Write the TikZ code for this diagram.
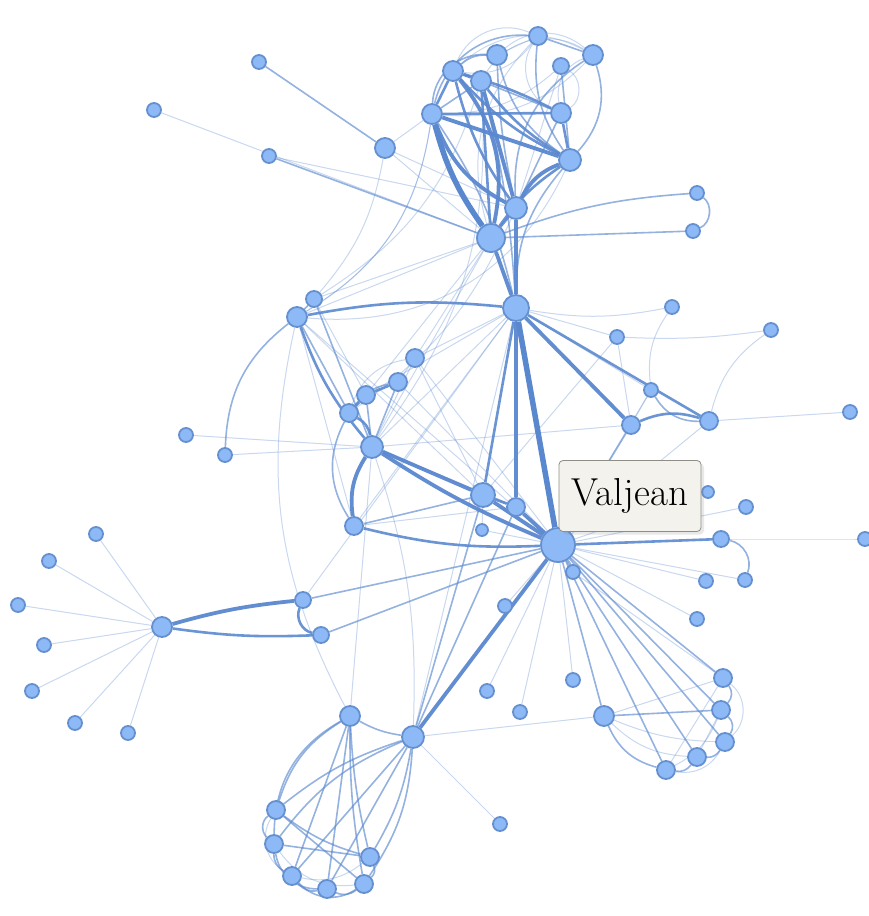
\documentclass[tikz,border=0pt]{standalone}
\usetikzlibrary{backgrounds,shadows}
\definecolor{nodefill}{HTML}{8DBAF6}
\definecolor{nodedraw}{HTML}{6590D0}
\definecolor{edgec}{HTML}{5A88CF}
\definecolor{tipfill}{HTML}{F4F2EC}
\definecolor{tipdraw}{HTML}{8E8E86}
\tikzset{
  vn/.style={circle,fill=nodefill,draw=nodedraw,line width=1.8pt,minimum size={2*#1 pt},inner sep=0pt},
  ew1/.style={draw=edgec,line width=1pt,draw opacity=0.33},
  ew2/.style={draw=edgec,line width=1.6pt,draw opacity=0.65},
  ew3/.style={draw=edgec,line width=2.6pt,draw opacity=0.9},
  ew4/.style={draw=edgec,line width=3.8pt,draw opacity=0.95},
  ew5/.style={draw=edgec,line width=5.5pt},
  tip/.style={rectangle,rounded corners=4pt,fill=tipfill,draw=tipdraw,line width=0.8pt,
    minimum width=142pt,minimum height=71pt,inner sep=0pt,
    drop shadow={opacity=0.18,shadow xshift=3pt,shadow yshift=-3pt}}
}
\begin{document}
\begin{tikzpicture}[x=1pt,y=-1pt]
\useasboundingbox (0,0) rectangle (869,916);
% top cluster
\node[vn=10] (a1) at (432,114) {};
\node[vn=10] (a2) at (453,71) {};
\node[vn=10] (a3) at (481,81) {};
\node[vn=10] (a4) at (497,55) {};
\node[vn=9] (a5) at (538,36) {};
\node[vn=8] (a6) at (561,66) {};
\node[vn=10] (a7) at (593,55) {};
\node[vn=10] (a8) at (561,113) {};
\node[vn=11] (a9) at (570,160) {};
\node[vn=11] (a10) at (516,208) {};
\node[vn=14] (a11) at (491,238) {};
\node[vn=10] (b1) at (385,148) {};
\node[vn=7] (l1) at (259,62) {};
\node[vn=7] (l2) at (154,110) {};
\node[vn=7] (l3) at (269,156) {};
\node[vn=7] (r1) at (697,193) {};
\node[vn=7] (r2) at (693,231) {};
% middle
\node[vn=13] (J) at (516,308) {};
\node[vn=10] (c1) at (297,317) {};
\node[vn=8] (c2) at (314,299) {};
\node[vn=9] (c3) at (415,358) {};
\node[vn=9] (c4) at (398,382) {};
\node[vn=9] (c5) at (366,395) {};
\node[vn=9] (c6) at (349,413) {};
\node[vn=11] (c7) at (372,447) {};
\node[vn=7] (l4) at (186,435) {};
\node[vn=7] (l5) at (225,455) {};
\node[vn=9] (c8) at (354,526) {};
\node[vn=12] (c9) at (483,495) {};
\node[vn=9] (c10) at (516,507) {};
\node[vn=6] (c11) at (482,530) {};
\node[vn=17] (V) at (558,545) {};
\node[vn=7] (d1) at (672,307) {};
\node[vn=7] (d2) at (617,337) {};
\node[vn=7] (d3) at (771,330) {};
\node[vn=7] (d4) at (651,390) {};
\node[vn=9] (d5) at (631,425) {};
\node[vn=9] (d6) at (709,421) {};
\node[vn=7] (d7) at (850,412) {};
\node[vn=6] (d8) at (708,492) {};
\node[vn=7] (d9) at (746,507) {};
\node[vn=8] (d10) at (721,539) {};
\node[vn=7] (d11) at (865,539) {};
\node[vn=7] (d12) at (706,581) {};
\node[vn=7] (d13) at (745,580) {};
\node[vn=7] (d14) at (573,572) {};
\node[vn=7] (d15) at (697,619) {};
% left star
\node[vn=10] (h) at (162,627) {};
\node[vn=7] (h1) at (96,534) {};
\node[vn=7] (h2) at (49,561) {};
\node[vn=7] (h3) at (18,605) {};
\node[vn=7] (h4) at (44,645) {};
\node[vn=7] (h5) at (32,691) {};
\node[vn=7] (h6) at (75,723) {};
\node[vn=7] (h7) at (128,733) {};
\node[vn=8] (p1) at (303,600) {};
\node[vn=8] (p2) at (321,635) {};
% lower
\node[vn=7] (e1) at (505,606) {};
\node[vn=7] (e2) at (487,691) {};
\node[vn=7] (e3) at (520,712) {};
\node[vn=7] (e4) at (573,680) {};
\node[vn=10] (f0) at (604,716) {};
\node[vn=9] (f1) at (723,678) {};
\node[vn=9] (f2) at (721,710) {};
\node[vn=9] (f3) at (725,742) {};
\node[vn=9] (f4) at (697,757) {};
\node[vn=9] (f5) at (666,770) {};
\node[vn=11] (g0) at (413,737) {};
\node[vn=10] (g1) at (350,716) {};
\node[vn=9] (g2) at (276,810) {};
\node[vn=9] (g3) at (274,844) {};
\node[vn=9] (g4) at (292,876) {};
\node[vn=9] (g5) at (327,889) {};
\node[vn=9] (g6) at (364,884) {};
\node[vn=9] (g7) at (370,857) {};
\node[vn=7] (e5) at (500,824) {};
\begin{scope}[on background layer]
\foreach \a/\b/\w/\g in {
 a1/a11/ew5/-10, a1/a10/ew4/-20, a1/a9/ew4/0, a1/a8/ew3/0, a2/a8/ew3/5, a2/a9/ew3/-10,
 a2/a3/ew3/0, a2/a4/ew2/20, a2/a11/ew4/25, a2/a10/ew3/-10, a3/a10/ew4/0, a3/a11/ew3/0,
 a3/a9/ew3/-10, a3/a8/ew2/0, a4/a10/ew2/-5, a4/a9/ew2/-20, a4/a7/ew1/40, a4/a5/ew1/0,
 a5/a7/ew2/0, a5/a9/ew2/-20, a5/a2/ew1/30, a6/a9/ew2/0, a6/a10/ew1/0, a7/a9/ew2/30,
 a7/a10/ew2/-30, a8/a9/ew3/0, a8/a10/ew2/0, a9/a10/ew4/-20, a9/a11/ew3/-10, a10/a11/ew3/0,
 a10/J/ew4/0, a11/J/ew4/0, a1/J/ew2/10, a9/J/ew2/-20, a3/J/ew2/5, a1/a2/ew3/0, a1/a3/ew2/0,
 a6/a1/ew1/20, a7/a1/ew1/25, a5/a11/ew1/-30, a1/a5/ew2/40, a2/a5/ew1/45, a3/a7/ew1/45,
 a1/a4/ew2/45, a6/a8/ew1/60, a7/a8/ew1/-40, a5/a8/ew1/-50, a2/a7/ew1/35,
 l1/b1/ew2/0, b1/a11/ew1/0, b1/a10/ew1/0, b1/a1/ew1/0, b1/c2/ew1/15, l2/a11/ew1/0,
 l3/a11/ew2/0, l3/a10/ew1/0, r1/a11/ew2/-8, r2/a11/ew2/0, r1/r2/ew2/60,
 a1/c1/ew1/25, a3/c7/ew1/20, a11/c3/ew1/0, a10/c6/ew1/15, a11/c5/ew1/0, a9/c1/ew1/35,
 J/V/ew5/0, J/c10/ew4/0, J/c9/ew3/0, J/d5/ew4/0, J/d6/ew3/0, J/c1/ew3/-8, J/c7/ew1/0,
 J/d2/ew1/0, J/d4/ew1/0, J/g0/ew1/0, J/c8/ew1/0, J/c3/ew1/0, J/c5/ew1/0, J/d1/ew1/-10,
 c1/c2/ew2/0, c1/c7/ew3/-10, c1/c6/ew2/0, c1/l5/ew2/-25, c1/c8/ew1/0, c1/a1/ew1/-25,
 c1/a11/ew1/0, c1/V/ew1/0, c1/c9/ew1/0, c1/g1/ew1/-20, c2/c7/ew2/0, c2/a11/ew1/0,
 c2/c5/ew1/0, c2/a3/ew1/-20, c3/c4/ew1/0, c3/c6/ew1/-30, c3/c7/ew1/0, c3/V/ew1/0,
 c3/c9/ew1/0, c4/c5/ew3/0, c4/c6/ew2/-20, c4/c7/ew2/0, c4/V/ew1/0, c5/c6/ew3/0,
 c5/c7/ew2/0, c6/c7/ew3/25, c6/c8/ew2/-30, c7/c9/ew4/0, c7/V/ew4/-5, c7/c8/ew4/-20,
 l4/c7/ew1/0, c7/a11/ew1/0, c7/c10/ew2/0, c7/d5/ew1/0, c7/g0/ew1/10, l5/c7/ew1/0,
 c8/V/ew3/-8, c8/c9/ew2/0, c8/c10/ew1/0, c9/V/ew4/0, c9/c10/ew3/0, c9/g0/ew2/0,
 c10/V/ew4/0, c11/V/ew1/0, c11/c9/ew1/0,
 d5/d6/ew3/20, d4/d6/ew2/-30, d4/d5/ew1/0, d1/d4/ew1/-20, d2/d3/ew1/-5, d3/d6/ew1/-20,
 d6/d7/ew1/0, d5/V/ew2/0, d6/V/ew1/0, d4/V/ew1/0, d2/c9/ew1/0, d2/d5/ew1/0,
 V/d10/ew3/0, d10/d11/ew1/0, d10/d13/ew2/50, V/d12/ew1/0, V/d13/ew1/0, V/d8/ew1/0,
 V/d9/ew1/0, V/d14/ew2/0, V/d15/ew1/0,
 h/p1/ew4/5, h/p2/ew3/-5, p1/p2/ew3/-50, p1/V/ew2/0, p2/V/ew2/0, p1/J/ew1/0,
 h/h1/ew1/0, h/h2/ew1/0, h/h3/ew1/0, h/h4/ew1/0, h/h5/ew1/0, h/h6/ew1/0, h/h7/ew1/0,
 V/f0/ew2/0, V/f1/ew2/0, V/f2/ew2/0, V/f3/ew2/0, V/f4/ew2/0, V/f5/ew2/0,
 f0/f1/ew1/0, f0/f2/ew2/0, f0/f3/ew1/-10, f0/f4/ew1/-20, f0/f5/ew2/-25,
 f1/f2/ew2/40, f1/f3/ew1/50, f2/f3/ew2/40, f2/f4/ew1/0, f3/f4/ew2/30, f4/f5/ew2/30,
 f3/f5/ew1/35, f1/f5/ew1/0, f2/f5/ew1/20, d14/f1/ew1/0, V/e1/ew1/0, V/e2/ew1/0,
 V/e3/ew1/0, V/e4/ew1/0, g0/f0/ew1/0,
 V/g0/ew4/0, c10/g0/ew2/0, g0/g1/ew2/10, g0/g2/ew2/-10, g0/g3/ew2/-15, g0/g4/ew2/0,
 g0/g5/ew2/0, g0/g6/ew2/15, g0/g7/ew2/10, g1/g2/ew2/-20, g1/g3/ew2/-30, g1/g4/ew2/0,
 g1/g5/ew2/0, g1/g6/ew2/-5, g1/g7/ew2/-5, g2/g3/ew2/-50, g2/g4/ew1/-45, g2/g7/ew2/-10,
 g2/g6/ew2/0, g3/g4/ew2/-30, g3/g5/ew2/-40, g3/g7/ew2/0, g4/g5/ew2/-30, g4/g6/ew2/-40,
 g5/g6/ew2/-30, g6/g7/ew2/-35, g3/g6/ew1/-30, g4/g7/ew1/-25, g0/e5/ew1/0, g1/c7/ew1/0}
 \draw[\w] (\a) to[bend left=\g] (\b);
\end{scope}
\node[tip] (tooltip) at (630,496) {\fontsize{39}{44}\selectfont Valjean};
\end{tikzpicture}
\end{document}
